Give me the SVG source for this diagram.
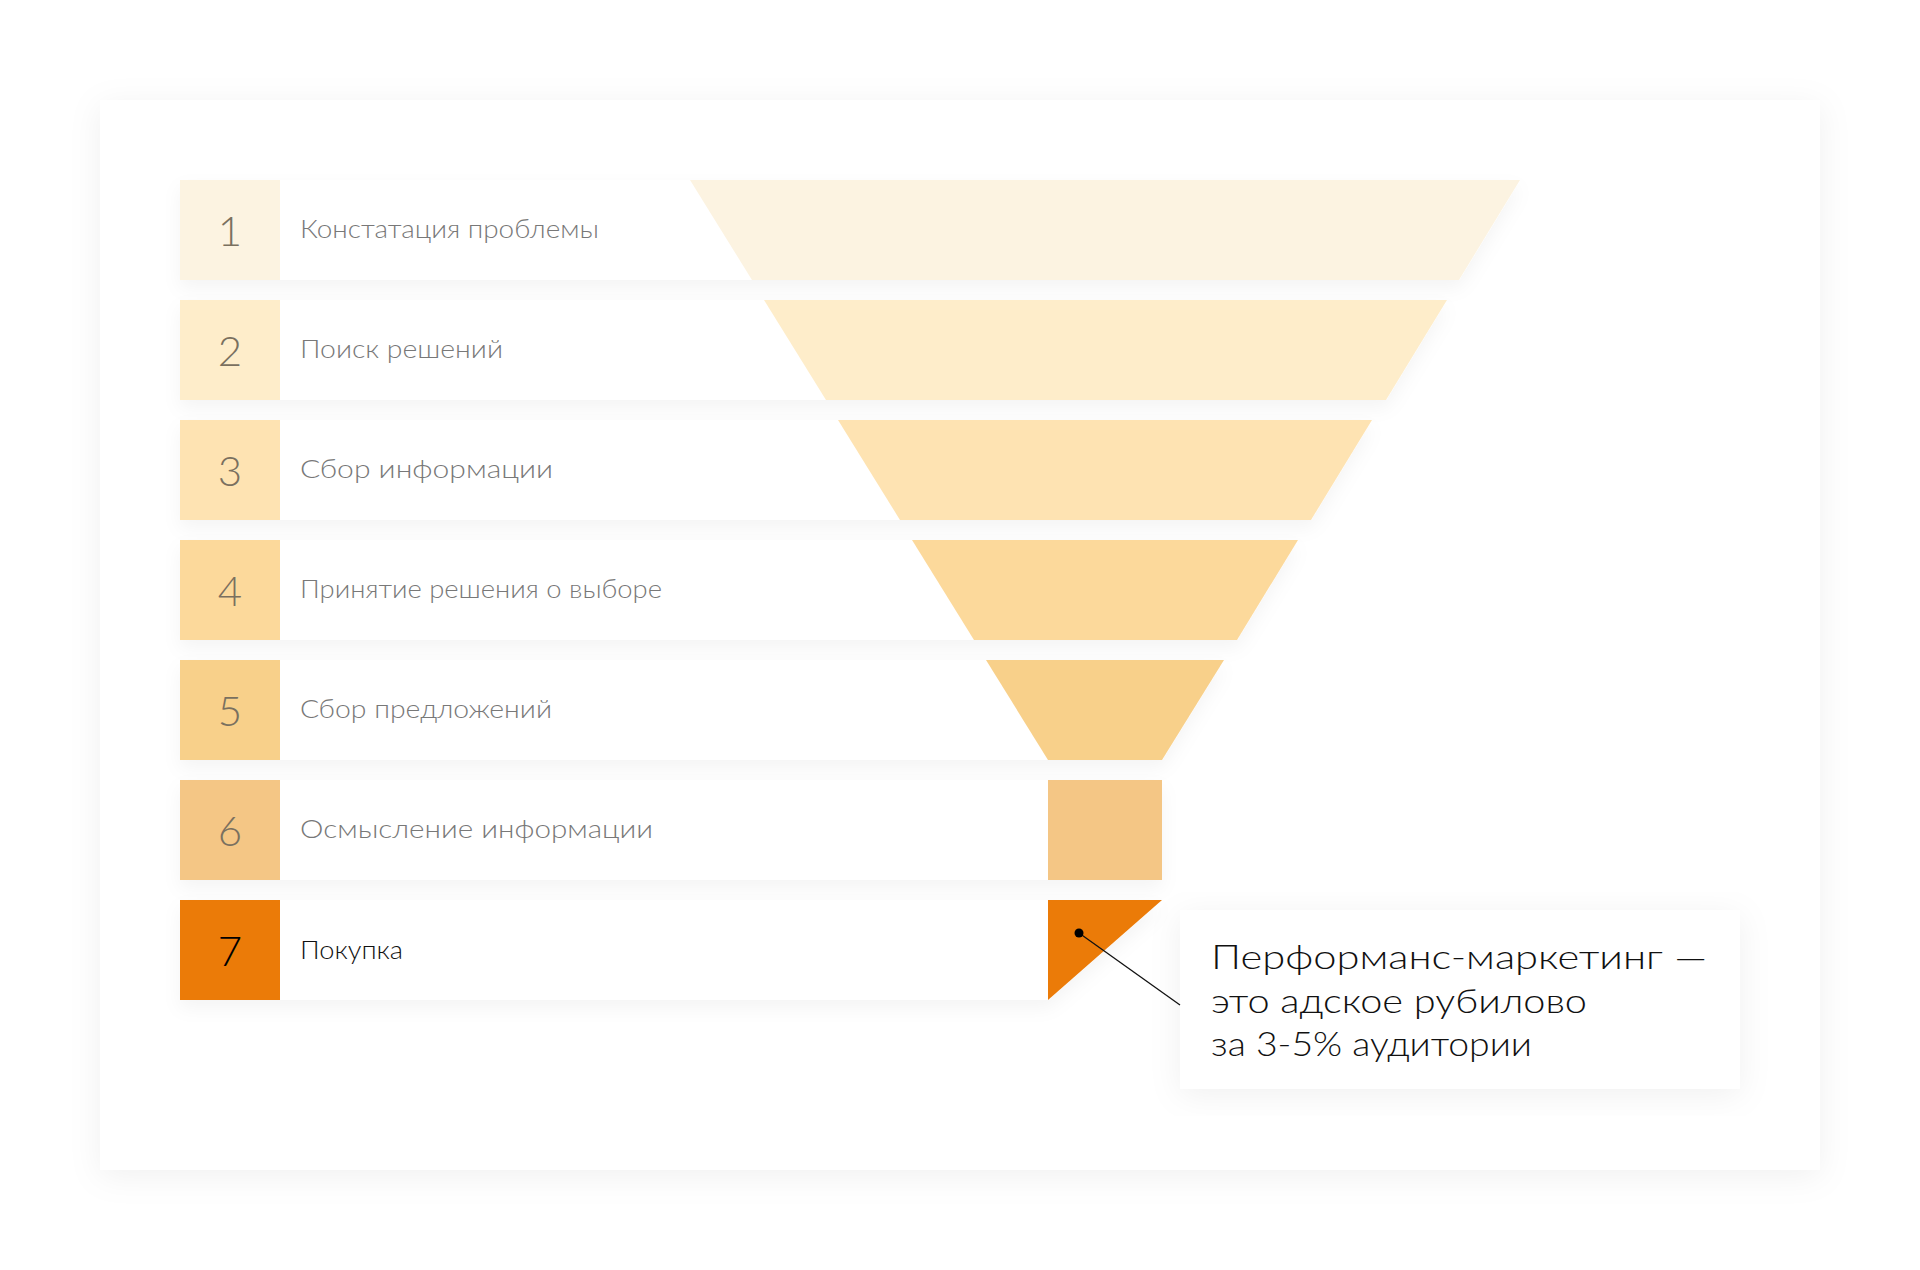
<svg xmlns="http://www.w3.org/2000/svg" width="1920" height="1270" viewBox="0 0 1920 1270">
<defs>
<filter id="cardShadow" x="-10%" y="-10%" width="120%" height="125%">
<feDropShadow dx="0" dy="6" stdDeviation="16" flood-color="#000" flood-opacity="0.06"/>
</filter>
<filter id="rowShadow" x="-5%" y="-40%" width="110%" height="190%">
<feDropShadow dx="0" dy="8" stdDeviation="9" flood-color="#000" flood-opacity="0.045"/>
</filter>
<style>
.row{fill:#fff;filter:url(#rowShadow)}
.num{font-family:"Century Gothic","URW Gothic",Lato,"DejaVu Sans",sans-serif;font-weight:300;font-size:42px;fill:#7a705f;text-anchor:middle}
.lbl{font-family:"Century Gothic","URW Gothic",Lato,"DejaVu Sans",sans-serif;font-weight:300;font-size:26px;fill:#787878}
.call{font-family:"Century Gothic","URW Gothic",Lato,"DejaVu Sans",sans-serif;font-weight:300;font-size:34px;fill:#111}
</style>
</defs>
<rect width="1920" height="1270" fill="#fff"/>
<rect id="card" x="100" y="100" width="1720" height="1070" fill="#fff" filter="url(#cardShadow)"/>

<g id="stage1">
<polygon class="row" points="180,180 1520,180 1459,280 180,280"/>
<polygon points="690,180 1520,180 1459,280 752,280" fill="#fcf3e1"/>
<rect x="180" y="180" width="100" height="100" fill="#fcf3e1"/>
<text class="num" x="230" y="246">1</text>
<text class="lbl" x="300" y="238" textLength="299" lengthAdjust="spacingAndGlyphs">Констатация проблемы</text>
</g>
<g id="stage2">
<polygon class="row" points="180,300 1447,300 1386,400 180,400"/>
<polygon points="764,300 1447,300 1386,400 826,400" fill="#feedca"/>
<rect x="180" y="300" width="100" height="100" fill="#feedca"/>
<text class="num" x="230" y="366">2</text>
<text class="lbl" x="300" y="358" textLength="203" lengthAdjust="spacingAndGlyphs">Поиск решений</text>
</g>
<g id="stage3">
<polygon class="row" points="180,420 1372,420 1311,520 180,520"/>
<polygon points="838,420 1372,420 1311,520 900,520" fill="#fee3b2"/>
<rect x="180" y="420" width="100" height="100" fill="#fee3b2"/>
<text class="num" x="230" y="486">3</text>
<text class="lbl" x="300" y="478" textLength="253" lengthAdjust="spacingAndGlyphs">Сбор информации</text>
</g>
<g id="stage4">
<polygon class="row" points="180,540 1298,540 1237,640 180,640"/>
<polygon points="912,540 1298,540 1237,640 974,640" fill="#fcd99b"/>
<rect x="180" y="540" width="100" height="100" fill="#fcd99b"/>
<text class="num" x="230" y="606">4</text>
<text class="lbl" x="300" y="598" textLength="362" lengthAdjust="spacingAndGlyphs">Принятие решения о выборе</text>
</g>
<g id="stage5">
<polygon class="row" points="180,660 1224,660 1162,760 180,760"/>
<polygon points="986,660 1224,660 1162,760 1048,760" fill="#f8d08a"/>
<rect x="180" y="660" width="100" height="100" fill="#f8d08a"/>
<text class="num" x="230" y="726">5</text>
<text class="lbl" x="300" y="718" textLength="252" lengthAdjust="spacingAndGlyphs">Сбор предложений</text>
</g>
<g id="stage6">
<rect class="row" x="180" y="780" width="982" height="100"/>
<rect x="1048" y="780" width="114" height="100" fill="#f4c685"/>
<rect x="180" y="780" width="100" height="100" fill="#f4c685"/>
<text class="num" x="230" y="846">6</text>
<text class="lbl" x="300" y="838" textLength="353" lengthAdjust="spacingAndGlyphs">Осмысление информации</text>
</g>
<g id="stage7">
<polygon class="row" points="180,900 1162,900 1048,1000 180,1000"/>
<polygon points="1048,900 1162,900 1048,1000" fill="#eb7b08"/>
<rect x="180" y="900" width="100" height="100" fill="#eb7b08"/>
<text class="num" x="230" y="966" style="fill:#000">7</text>
<text class="lbl" x="300" y="959" textLength="103" lengthAdjust="spacingAndGlyphs" style="fill:#111">Покупка</text>
</g>

<g id="callout">
<rect x="1180" y="910" width="560" height="179" fill="#fff" filter="url(#cardShadow)"/>
<text class="call" x="1211" y="969" textLength="496" lengthAdjust="spacingAndGlyphs">Перформанс-маркетинг —</text>
<text class="call" x="1211" y="1013" textLength="376" lengthAdjust="spacingAndGlyphs">это адское рубилово</text>
<text class="call" x="1211" y="1056" textLength="321" lengthAdjust="spacingAndGlyphs">за 3-5% аудитории</text>
</g>

<g id="connectors">
<line x1="1079" y1="933" x2="1180" y2="1005" stroke="#111" stroke-width="1.3"/>
<circle cx="1079" cy="933" r="4.5" fill="#000"/>
</g>
</svg>
